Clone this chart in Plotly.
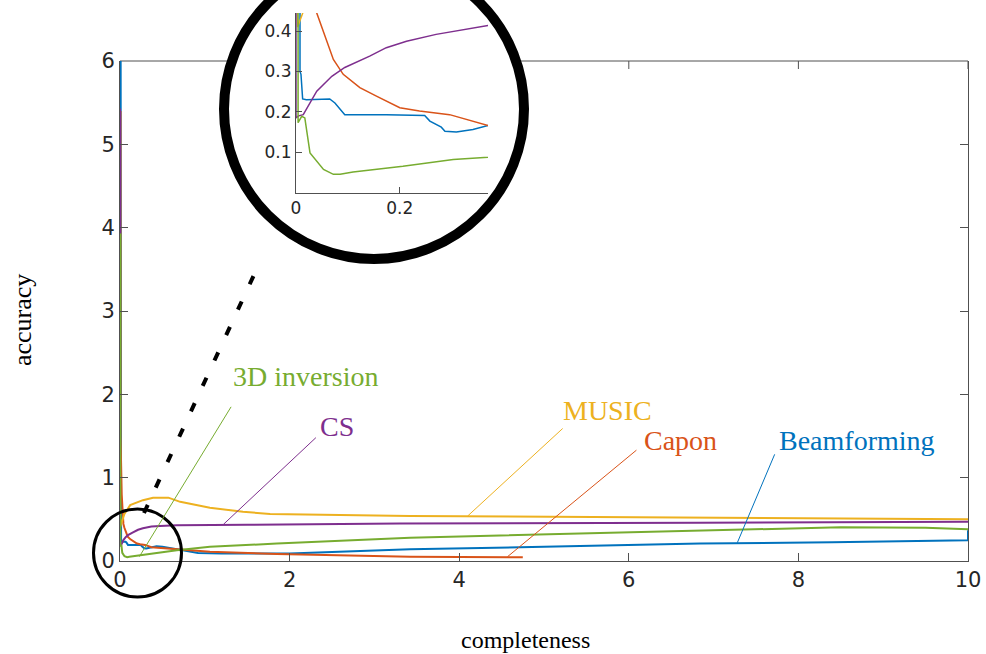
import plotly.graph_objects as go

# ---------------- data ----------------
blue_x = [0.0077, 0.0077, 0.0096, 0.0128, 0.02, 0.065, 0.075, 0.085, 0.094, 0.174, 0.248, 0.258, 0.28, 0.287,
          0.309, 0.341, 0.37, 0.43, 0.5, 0.6, 0.79, 0.92, 1.2, 2.0, 3.42, 5.0, 6.84, 8.4, 9.9, 10.0, 10.0]
blue_y = [6.0, 0.30, 0.293, 0.232, 0.23, 0.232, 0.222, 0.206, 0.193, 0.193, 0.191, 0.177, 0.162, 0.152,
          0.150, 0.156, 0.166, 0.178, 0.17, 0.15, 0.12, 0.095, 0.09, 0.09, 0.14, 0.17, 0.21, 0.225, 0.245, 0.25, 0.37]

orange_x = [0.006, 0.006, 0.02, 0.03, 0.04, 0.053, 0.072, 0.091, 0.123, 0.155, 0.2, 0.238, 0.296, 0.37,
            0.5, 0.67, 1.06, 1.85, 3.42, 4.75]
orange_y = [5.4, 1.5, 0.8, 0.58, 0.445, 0.396, 0.33, 0.293, 0.26, 0.239, 0.21, 0.202, 0.193, 0.166,
            0.155, 0.14, 0.11, 0.085, 0.05, 0.045]

yellow_x = [0.002, 0.003, 0.013, 0.05, 0.12, 0.27, 0.39, 0.57, 0.71, 1.06, 1.45, 1.77, 3.42, 6.84, 10.0]
yellow_y = [0.62, 0.41, 0.445, 0.56, 0.67, 0.73, 0.76, 0.76, 0.71, 0.64, 0.59, 0.565, 0.54, 0.52, 0.50]

purple_x = [0.0, 0.0, 0.005, 0.014, 0.04, 0.069, 0.094, 0.142, 0.174, 0.213, 0.27, 0.315, 0.37, 0.47,
            0.67, 1.5, 3.3, 6.84, 10.0]
purple_y = [5.43, 0.185, 0.19, 0.193, 0.251, 0.288, 0.31, 0.338, 0.359, 0.375, 0.392, 0.402, 0.414, 0.42,
            0.43, 0.435, 0.45, 0.46, 0.47]

green_x = [0.004, 0.004, 0.011, 0.017, 0.027, 0.053, 0.072, 0.085, 0.11, 0.206, 0.303, 0.37, 0.67, 1.06,
           1.85, 3.42, 5.0, 6.84, 8.5, 9.5, 9.95, 10.0]
green_y = [3.93, 0.173, 0.189, 0.185, 0.098, 0.057, 0.045, 0.045, 0.051, 0.065, 0.082, 0.09, 0.13, 0.17,
           0.21, 0.28, 0.32, 0.37, 0.405, 0.40, 0.385, 0.38]

series_names = ["Beamforming", "Capon", "MUSIC", "CS", "3D inversion"]
series_colors = ["#0072BD", "#D95319", "#EDB120", "#7E2F8E", "#77AC30"]
series_x = [blue_x, orange_x, yellow_x, purple_x, green_x]
series_y = [blue_y, orange_y, yellow_y, purple_y, green_y]

# label text anchors (left edge, middle) and pointer lines (start near text -> point on curve)
label_x = [7.75, 6.16, 5.20, 2.335, 1.31]
label_y = [1.45, 1.45, 1.81, 1.61, 2.21]
ptr_x0 = [7.72, 6.09, 5.22, 2.31, 1.31]
ptr_y0 = [1.28, 1.33, 1.59, 1.48, 1.85]
ptr_x1 = [7.28, 4.57, 4.10, 1.22, 0.228]
ptr_y1 = [0.22, 0.052, 0.54, 0.44, 0.052]

main_xticks = [0, 2, 4, 6, 8, 10]
main_yticks = [0, 1, 2, 3, 4, 5, 6]
inset_xticks = [0, 0.2]
inset_yticks = [0.1, 0.2, 0.3, 0.4]

# ---------------- layout geometry ----------------
W, H = 986, 654
ML, MT, MB = 120, 13, 93
MR = W - 968
PW, PH = W - ML - MR, H - MT - MB


def fx(px):  # pixel -> paper x
    return (px - ML) / PW


def fy(py):  # pixel -> paper y
    return (H - MB - py) / PH


main_top = fy(61)
AX = "#505050"
TICKFONT = dict(family="DejaVu Sans", size=21, color="#262626")
INSETFONT = dict(family="DejaVu Sans", size=17, color="#262626")
SERIF = "Liberation Serif"

fig = go.Figure()

for nm, c, xs, ys in zip(series_names, series_colors, series_x, series_y):
    fig.add_trace(go.Scatter(x=xs, y=ys, mode="lines", name=nm, line=dict(color=c, width=2),
                             xaxis="x", yaxis="y", showlegend=False, hoverinfo="skip"))
for nm, c, xs, ys in zip(series_names, series_colors, series_x, series_y):
    fig.add_trace(go.Scatter(x=xs, y=ys, mode="lines", name=nm, line=dict(color=c, width=1.5),
                             xaxis="x2", yaxis="y2", showlegend=False, hoverinfo="skip"))

shapes = []
# top frame line and top ticks (below layer so the magnifier circle hides them)
shapes.append(dict(type="line", xref="paper", yref="paper", x0=0, x1=1, y0=main_top, y1=main_top,
                   layer="below", line=dict(color=AX, width=1)))
for t in main_xticks:
    shapes.append(dict(type="line", xref="x", yref="paper", x0=t, x1=t, y0=main_top, y1=main_top - 8 / PH,
                       layer="below", line=dict(color=AX, width=1)))
# white disc of the magnifier
cx, cy, r = 374, 109, 150
shapes.append(dict(type="circle", xref="paper", yref="paper", x0=fx(cx - r), x1=fx(cx + r),
                   y0=fy(cy + r), y1=fy(cy - r), layer="below", fillcolor="white", line=dict(width=0)))
# ring of the magnifier
shapes.append(dict(type="circle", xref="paper", yref="paper", x0=fx(cx - r), x1=fx(cx + r),
                   y0=fy(cy + r), y1=fy(cy - r), layer="above", line=dict(color="black", width=10)))
# small circle around origin
scx, scy, sr = 137.5, 553, 44
shapes.append(dict(type="circle", xref="paper", yref="paper", x0=fx(scx - sr), x1=fx(scx + sr),
                   y0=fy(scy + sr), y1=fy(scy - sr), layer="above", line=dict(color="black", width=3)))
# dotted connector
shapes.append(dict(type="line", xref="paper", yref="paper", x0=fx(144), y0=fy(513), x1=fx(259), y1=fy(264),
                   layer="above", line=dict(color="black", width=4, dash="9px,19px")))
# pointer lines
for c, a0, b0, a1, b1 in zip(series_colors, ptr_x0, ptr_y0, ptr_x1, ptr_y1):
    shapes.append(dict(type="line", xref="x", yref="y", x0=a0, y0=b0, x1=a1, y1=b1, layer="above",
                       line=dict(color=c, width=1)))

annotations = []
for nm, c, lx, ly in zip(series_names, series_colors, label_x, label_y):
    annotations.append(dict(x=lx, y=ly, xref="x", yref="y", text=nm, showarrow=False, xanchor="left",
                            yanchor="middle", font=dict(family=SERIF, size=28, color=c)))
annotations.append(dict(x=fx(525), y=fy(640), xref="paper", yref="paper", text="completeness", showarrow=False,
                        xanchor="center", yanchor="middle", font=dict(family=SERIF, size=24, color="black")))
annotations.append(dict(x=fx(22), y=fy(320), xref="paper", yref="paper", text="accuracy", showarrow=False,
                        textangle=-90, xanchor="center", yanchor="middle",
                        font=dict(family=SERIF, size=26, color="black")))

common = dict(showgrid=False, zeroline=False, automargin=False, ticks="inside", tickwidth=1, tickcolor=AX,
              showline=True, linecolor=AX, linewidth=1)
fig.update_layout(
    template="none",
    width=W, height=H,
    margin=dict(l=ML, r=MR, t=MT, b=MB, pad=0, autoexpand=False),
    paper_bgcolor="white", plot_bgcolor="white",
    xaxis=dict(domain=[0, 1], range=[0, 10], tickvals=main_xticks, ticklen=8, mirror=False,
               tickfont=TICKFONT, anchor="y", **common),
    yaxis=dict(domain=[0, main_top], range=[0, 6], tickvals=main_yticks, ticklen=8, mirror="ticks",
               tickfont=TICKFONT, anchor="x", **common),
    xaxis2=dict(domain=[fx(296), fx(488)], range=[0, 0.37], tickvals=inset_xticks, ticktext=["0", "0.2"],
                ticklen=6, tickfont=INSETFONT, anchor="y2", **common),
    yaxis2=dict(domain=[fy(192.5), 1], range=[0, 0.445], tickvals=inset_yticks,
                ticktext=["0.1", "0.2", "0.3", "0.4"], ticklen=6, tickfont=INSETFONT, anchor="x2", **common),
    shapes=shapes,
    annotations=annotations,
    showlegend=False,
)

# remove the default page margin so the figure fills the window exactly
fig.write_html("out.html", config={"displayModeBar": False, "staticPlot": True},
               post_script="document.body.style.margin='0';document.body.style.overflow='hidden';")
